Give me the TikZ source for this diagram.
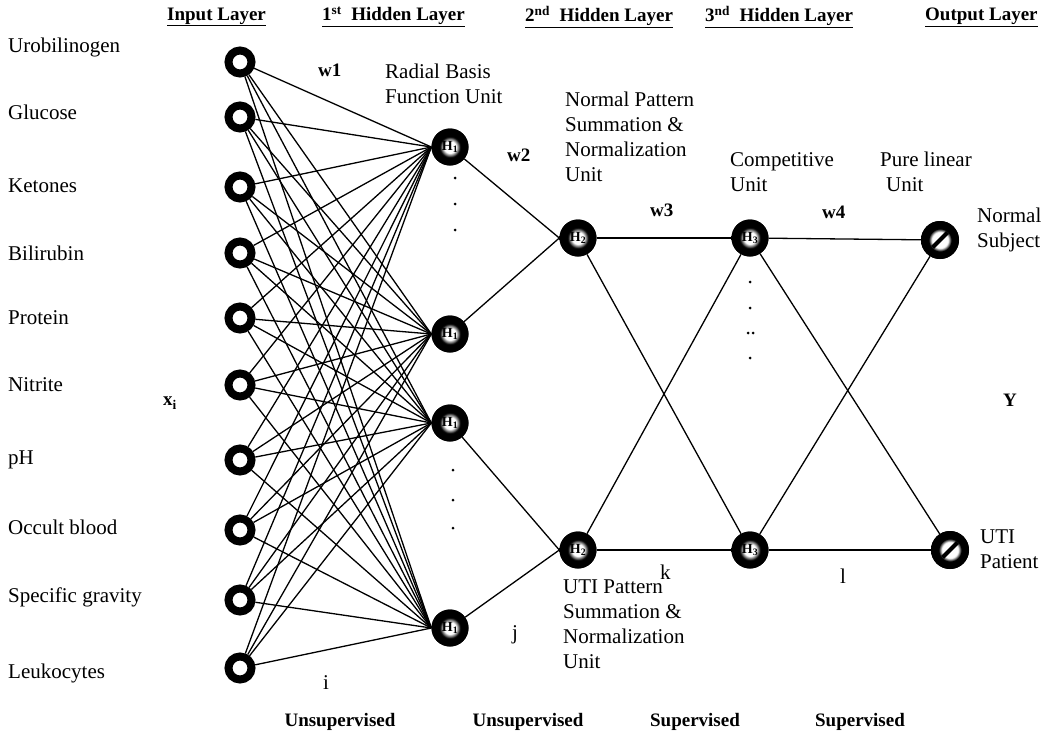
\documentclass[tikz,border=0pt]{standalone}
\usepackage{fontspec}
\setmainfont{Liberation Serif}
\pgfdeclareradialshading{hblob}{\pgfpoint{0bp}{0bp}}{color(0bp)=(white); color(8bp)=(white); color(14bp)=(black); color(50bp)=(black)}
\pgfdeclareradialshading{oblob}{\pgfpoint{0bp}{0bp}}{color(0bp)=(white); color(10.5bp)=(white); color(15bp)=(black); color(50bp)=(black)}
\tikzset{
  every picture/.style={x=1pt,y=-1pt},
  lbl/.style={anchor=west,inner sep=0pt,font=\fontsize{21}{25}\selectfont},
  blk/.style={anchor=north west,inner sep=0pt,align=left,font=\fontsize{21}{25}\selectfont},
  bl/.style={anchor=west,inner sep=0pt,font=\bfseries\fontsize{19}{23}\selectfont},
  hdr/.style={anchor=west,inner sep=0pt,font=\bfseries\fontsize{19}{23}\selectfont},
  bot/.style={inner sep=0pt,font=\bfseries\fontsize{19}{23}\selectfont},
  innode/.style={circle,draw=black,line width=8pt,fill=white,minimum size=23pt,inner sep=0pt},
  hnode/.style={circle,fill=black,minimum size=37pt,inner sep=0pt,text=black,
    font=\bfseries\fontsize{14}{14}\selectfont,
    path picture={\shade[shading=hblob]
      (path picture bounding box.center) circle (18.5pt);}},
  onode/.style={circle,fill=black,minimum size=38pt,inner sep=0pt,
    path picture={\shade[shading=oblob]
      (path picture bounding box.center) circle (19pt);
      \draw[black,line width=4pt] ([shift={(-7.5pt,-7.5pt)}]path picture bounding box.center) -- ([shift={(7.5pt,7.5pt)}]path picture bounding box.center);}},
  conn/.style={line width=1.3pt,black},
  dotc/.style={fill=black,circle,inner sep=0pt,minimum size=3pt}
}
\begin{document}
\begin{tikzpicture}
\useasboundingbox (0,0) rectangle (1046,737);
\fill[white] (0,0) rectangle (1046,737);

% headers
\node[hdr] (hin) at (167,17) {\underline{Input Layer}};
\node[hdr] (hh1) at (322,17) {\underline{1\textsuperscript{st}\ \ Hidden Layer}};
\node[hdr] (hh2) at (525,17) {\underline{2\textsuperscript{nd}\ \ Hidden Layer}};
\node[hdr] (hh3) at (705,17) {\underline{3\textsuperscript{nd}\ \ Hidden Layer}};
\node[hdr] (hout) at (925,17) {\underline{Output Layer}};

% input labels
\node[lbl] (l1) at (8,47) {Urobilinogen};
\node[lbl] (l2) at (8,112) {Glucose};
\node[lbl] (l3) at (8,186) {Ketones};
\node[lbl] (l4) at (8,253) {Bilirubin};
\node[lbl] (l5) at (8,318) {Protein};
\node[lbl] (l6) at (8,385) {Nitrite};
\node[lbl] (l7) at (8,460) {pH};
\node[lbl] (l8) at (8,527) {Occult blood};
\node[lbl] (l9) at (8,597) {Specific gravity};
\node[lbl] (l10) at (8,673) {Leukocytes};
\node[bl] (xi) at (163,403) {x\textsubscript{i}};

% hidden and output nodes
\node[hnode] (a1) at (450,147) {H\textsubscript{1}};
\node[hnode] (a2) at (450,334) {H\textsubscript{1}};
\node[hnode] (a3) at (450,423) {H\textsubscript{1}};
\node[hnode] (a4) at (450,628) {H\textsubscript{1}};
\node[hnode] (b1) at (578,238) {H\textsubscript{2}};
\node[hnode] (b2) at (578,550) {H\textsubscript{2}};
\node[hnode] (c1) at (750,238) {H\textsubscript{3}};
\node[hnode] (c2) at (750,550) {H\textsubscript{3}};
\node[onode] (o1) at (940,240) {};
\node[onode] (o2) at (950,550) {};

% input nodes
\foreach \n/\y in {1/62,2/117,3/187,4/253,5/318,6/385,7/460,8/530,9/600,10/668}{
  \node[innode] (x\n) at (240,\y) {};
}

% connections
\foreach \n in {1,...,10}{
  \foreach \h in {a1,a2,a3,a4}{
    \draw[conn] (x\n) -- (\h.west);
  }
}
\draw[conn] (a1) -- (b1.west);
\draw[conn] (a2) -- (b1.west);
\draw[conn] (a3) -- (b2.west);
\draw[conn] (a4) -- (b2.west);
\draw[conn] (b1) -- (c1);
\draw[conn] (b1) -- (c2);
\draw[conn] (b2) -- (c1);
\draw[conn] (b2) -- (c2);
\draw[conn] (c1) -- (o1);
\draw[conn] (c1) -- (o2);
\draw[conn] (c2) -- (o1);
\draw[conn] (c2) -- (o2);

% dots
\foreach \y [count=\k] in {178,204,230}{\node[dotc] (da\k) at (455,\y) {};}
\foreach \y [count=\k] in {470,500,528}{\node[dotc] (db\k) at (453,\y) {};}
\node[dotc] (dc1) at (750,282) {};
\node[dotc] (dc2) at (750,308) {};
\node[dotc] (dc3) at (748,333) {};
\node[dotc] (dc4) at (753,333) {};
\node[dotc] (dc5) at (750,358) {};

% labels
\node[bl] (w1) at (318,70) {w1};
\node[blk] (rbf) at (385,64) {Radial Basis\\Function Unit};
\node[bl] (w2) at (507,155) {w2};
\node[blk] (npat) at (565,92) {Normal Pattern\\Summation \&\\Normalization\\Unit};
\node[bl] (w3) at (650,210) {w3};
\node[blk] (comp) at (730,152) {Competitive\\Unit};
\node[blk] (pure) at (880,152) {Pure linear\\\hspace*{6pt}Unit};
\node[bl] (w4) at (822,212) {w4};
\node[blk] (ns) at (977,208) {Normal\\Subject};
\node[bl] (yy) at (1003,400) {Y};
\node[blk] (uti) at (980,530) {UTI\\Patient};
\node[lbl] (k) at (660,572) {k};
\node[lbl] (l) at (840,576) {l};
\node[blk] (upat) at (563,580) {UTI Pattern\\Summation \&\\Normalization\\Unit};
\node[lbl] (j) at (512,635) {j};
\node[lbl] (i) at (323,683) {i};

\node[bot] (u1) at (340,722) {Unsupervised};
\node[bot] (u2) at (528,722) {Unsupervised};
\node[bot] (s1) at (695,722) {Supervised};
\node[bot] (s2) at (860,722) {Supervised};
\end{tikzpicture}
\end{document}
